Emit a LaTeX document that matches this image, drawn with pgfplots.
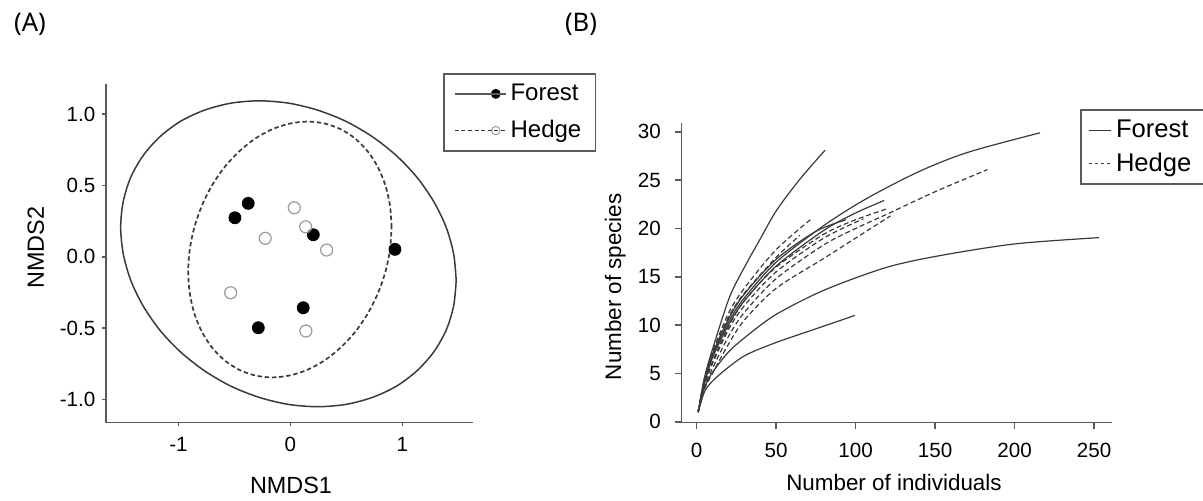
\documentclass[border=0pt]{standalone}
\usepackage{fontspec}
\setmainfont{Liberation Sans}
\newfontfamily\labfont{Noto Sans}
\usepackage{pgfplots}
\pgfplotsset{compat=1.18}

\definecolor{axgray}{HTML}{5A5A5A}
\definecolor{lngray}{HTML}{3A3A3A}
\definecolor{hedgegray}{HTML}{9A9A9A}

\pgfplotsset{
  legforest/.style={legend image code/.code={
    \draw[##1] (0pt,0pt) -- (17.5pt,0pt);
    \fill[black] (20.5pt,0pt) circle (2.1pt);
    \path (0pt,0pt) -- (25.5pt,0pt);}},
  leghedge/.style={legend image code/.code={
    \draw[##1] (0pt,0pt) -- (17.5pt,0pt);
    \draw[solid, hedgegray, fill=white, line width=0.5pt] (20.5pt,0pt) circle (2.1pt);
    \path (0pt,0pt) -- (25.5pt,0pt);}},
  legshort/.style={legend image code/.code={
    \draw[##1] (0pt,0pt) -- (9pt,0pt);
    \path (0pt,0pt) -- (11pt,0pt);}},
}

\begin{document}
\begin{tikzpicture}
\path[use as bounding box] (0pt,0pt) rectangle (601.5pt,250.5pt);
\node[font=\labfont\fontsize{12.8}{15}\selectfont] at (15pt,238.5pt) {(A)};
\node[font=\labfont\fontsize{12.8}{15}\selectfont] at (290.5pt,238.5pt) {(B)};

% (A) NMDS ordination
\begin{axis}[
  at={(53pt,39.15pt)}, anchor=south west, scale only axis,
  width=183.5pt, height=169.35pt,
  xmin=-1.647, xmax=1.63, ymin=-1.162, ymax=1.21,
  axis x line*=bottom, axis y line*=left,
  axis line style={axgray, line width=0.8pt},
  tick align=outside, major tick length=1.8pt,
  tick style={axgray, line width=0.8pt},
  xtick={-1,0,1}, xticklabels={-1,0,1},
  ytick={-1,-0.5,0,0.5,1}, yticklabels={-1.0,-0.5,0.0,0.5,1.0},
  tick label style={font=\fontsize{10.3}{12}\selectfont},
  xticklabel style={yshift=-2pt},
  xlabel={NMDS1}, ylabel={NMDS2},
  label style={font=\fontsize{11.7}{14}\selectfont},
  xlabel style={at={(axis description cs:0.504,-0.184)}, anchor=center},
  ylabel style={at={(axis description cs:-0.191,0.516)}, anchor=center},
  clip=false,
  legend cell align=left,
  legend style={at={(rel axis cs:0.919,1.0316)}, anchor=north west,
    draw=axgray, line width=0.8pt, font=\fontsize{12}{14}\selectfont,
    inner xsep=5pt, inner ysep=3pt, row sep=4.4pt,
    nodes={inner sep=2pt}},
]
\addlegendimage{axgray, line width=0.7pt, solid, legforest}
\addlegendentry{Forest}
\addlegendimage{lngray, line width=0.75pt, dash pattern=on 2pt off 1.3pt, leghedge}
\addlegendentry{Hedge}
\addplot[lngray, line width=0.75pt, smooth, forget plot] coordinates {
(1.480,-0.165) (1.457,0.021) (1.390,0.207) (1.279,0.387) (1.129,0.557)
(0.945,0.709) (0.731,0.841) (0.494,0.949) (0.242,1.027) (-0.018,1.076)
(-0.278,1.092) (-0.530,1.076) (-0.767,1.027) (-0.981,0.949) (-1.165,0.841)
(-1.315,0.709) (-1.426,0.557) (-1.493,0.387) (-1.516,0.207) (-1.493,0.021)
(-1.426,-0.165) (-1.315,-0.345) (-1.165,-0.515) (-0.981,-0.667) (-0.767,-0.799)
(-0.530,-0.907) (-0.278,-0.985) (-0.018,-1.034) (0.242,-1.050) (0.494,-1.034)
(0.731,-0.985) (0.945,-0.907) (1.129,-0.799) (1.279,-0.667) (1.390,-0.515)
(1.457,-0.345) (1.480,-0.165)};
\addplot[lngray, line width=0.85pt, dash pattern=on 2.2pt off 1.4pt, smooth, forget plot] coordinates {
(0.903,0.207) (0.889,0.357) (0.848,0.499) (0.781,0.627) (0.691,0.737)
(0.579,0.827) (0.449,0.893) (0.306,0.933) (0.153,0.947) (-0.005,0.933)
(-0.163,0.893) (-0.316,0.827) (-0.459,0.737) (-0.589,0.627) (-0.701,0.499)
(-0.791,0.357) (-0.858,0.207) (-0.899,0.051) (-0.913,-0.105) (-0.899,-0.255)
(-0.858,-0.397) (-0.791,-0.525) (-0.701,-0.635) (-0.589,-0.725) (-0.459,-0.791)
(-0.316,-0.831) (-0.163,-0.845) (-0.005,-0.831) (0.153,-0.791) (0.306,-0.725)
(0.449,-0.635) (0.579,-0.525) (0.691,-0.397) (0.781,-0.255) (0.848,-0.105)
(0.889,0.051) (0.903,0.207)};
% forest sites
\addplot[only marks, mark=*, mark size=3pt, mark options={fill=black, draw=black}, forget plot]
coordinates {(-0.377,0.374) (-0.496,0.273) (0.204,0.154) (0.933,0.052) (0.114,-0.357) (-0.287,-0.497)};
% hedge sites
\addplot[only marks, mark=o, mark size=3pt, mark options={draw=hedgegray, fill=white, line width=0.6pt}, forget plot]
coordinates {(0.034,0.343) (0.136,0.210) (-0.225,0.129) (0.323,0.047) (-0.534,-0.252) (0.138,-0.520)};
\end{axis}

% (B) rarefaction curves
\begin{axis}[
  at={(340.8pt,39.15pt)}, anchor=south west, scale only axis,
  width=214.95pt, height=150pt,
  xmin=-9.4, xmax=261, ymin=-0.1, ymax=30.95,
  axis x line*=bottom, axis y line*=left,
  axis line style={axgray, line width=0.8pt},
  tick align=outside, major tick length=3.4pt,
  tick style={axgray, line width=0.8pt},
  xtick={0,50,100,150,200,250}, ytick={0,5,10,15,20,25,30},
  /pgf/number format/assume math mode=true,
  tick label style={font=\fontsize{10.3}{12}\selectfont},
  xticklabel style={yshift=-3.2pt},
  yticklabel style={xshift=-3.5pt},
  xlabel={Number of individuals}, ylabel={Number of species},
  label style={font=\fontsize{11.2}{13}\selectfont},
  xlabel style={at={(axis description cs:0.494,-0.2)}, anchor=center},
  ylabel style={at={(axis description cs:-0.154,0.453)}, anchor=center},
  clip=false,
  legend cell align=left,
  legend style={at={(rel axis cs:0.9267,1.0447)}, anchor=north west,
    draw=axgray, line width=0.8pt, font=\fontsize{12.8}{15}\selectfont,
    inner xsep=4pt, inner ysep=3pt, row sep=2pt,
    nodes={inner sep=2pt}},
]
\addlegendimage{lngray, line width=0.6pt, solid, legshort}
\addlegendentry{Forest}
\addlegendimage{lngray, line width=0.6pt, dash pattern=on 1.5pt off 1.5pt, legshort}
\addlegendentry{Hedge}
% Forest
\addplot[lngray, line width=0.6pt, smooth, forget plot] coordinates {(1,1) (5,4.6) (10.6,7.8) (21,13.0) (31.5,16.4) (40,18.9) (50.4,21.9) (65,25.1) (80.8,28.1)};
\addplot[lngray, line width=0.6pt, smooth, forget plot] coordinates {(1,1) (5,4.0) (10,6.8) (20,10.3) (30,12.8) (50,16.5) (80,20.3) (107,23.1) (140,25.9) (171,27.9) (216,29.9)};
\addplot[lngray, line width=0.6pt, smooth, forget plot] coordinates {(1,1) (5,4.0) (10,6.6) (20,10.0) (30,12.5) (50,16.1) (80,19.8) (100,21.6) (118,22.9)};
\addplot[lngray, line width=0.6pt, smooth, forget plot] coordinates {(1,1) (5,4.1) (10,7.0) (20,10.6) (30,13.2) (50,16.8) (75,19.7) (94,20.9)};
\addplot[lngray, line width=0.6pt, smooth, forget plot] coordinates {(1,1) (5,3.5) (10,5.1) (20,7.2) (31,8.8) (50,11.1) (80,13.6) (118,15.9) (150,17.1) (200,18.4) (253,19.05)};
\addplot[lngray, line width=0.6pt, smooth, forget plot] coordinates {(1,1) (5,3.1) (10,4.2) (19,5.5) (31,6.9) (50,8.2) (73,9.5) (99.6,11.0)};
% Hedge
\addplot[lngray, line width=0.6pt, smooth, dash pattern=on 2.5pt off 1.5pt, forget plot] coordinates {(1,1) (5,3.6) (10,5.5) (20,8.8) (30,11.3) (50,14.8) (80,18.3) (100,20.0) (120,21.5) (150,23.8) (183,26.1)};
\addplot[lngray, line width=0.6pt, smooth, dash pattern=on 2.5pt off 1.5pt, forget plot] coordinates {(1,1) (5,3.9) (10,6.2) (20,9.8) (30,12.5) (50,16.0) (80,19.4) (100,20.9) (121,22.1)};
\addplot[lngray, line width=0.6pt, smooth, dash pattern=on 2.5pt off 1.5pt, forget plot] coordinates {(1,1) (5,3.4) (10,5.0) (20,8.0) (30,10.5) (50,13.8) (80,16.9) (100,19.0) (122,21.3)};
\addplot[lngray, line width=0.6pt, smooth, dash pattern=on 2.5pt off 1.5pt, forget plot] coordinates {(1,1) (5,4.5) (10,7.2) (20,11.2) (30,13.8) (50,17.8) (73,21.1)};
\addplot[lngray, line width=0.6pt, smooth, dash pattern=on 2.5pt off 1.5pt, forget plot] coordinates {(1,1) (5,4.4) (10,7.0) (20,10.8) (30,13.3) (50,17.0) (65,19.3)};
\addplot[lngray, line width=0.6pt, smooth, dash pattern=on 2.5pt off 1.5pt, forget plot] coordinates {(1,1) (5,3.8) (10,6.0) (20,9.5) (30,12.0) (50,15.5) (80,19.0) (105,21.0)};
\end{axis}
\end{tikzpicture}
\end{document}
